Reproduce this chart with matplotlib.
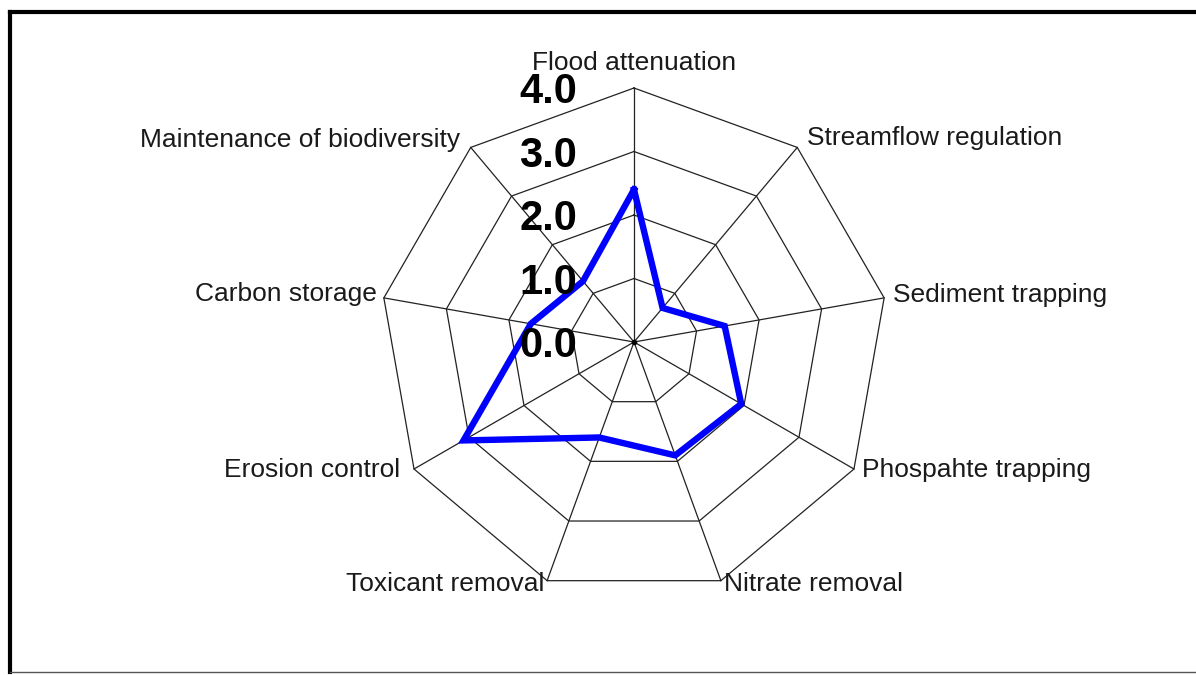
import numpy as np
import matplotlib
matplotlib.use("Agg")
import matplotlib.pyplot as plt
from matplotlib.lines import Line2D

plt.rcParams["font.family"] = ["Liberation Sans", "DejaVu Sans"]

# ---- data ----
categories = ["Flood attenuation", "Streamflow regulation", "Sediment trapping",
              "Phospahte trapping", "Nitrate removal", "Toxicant removal",
              "Erosion control", "Carbon storage", "Maintenance of biodiversity"]
values = [2.4, 0.7, 1.45, 1.95, 1.9, 1.6, 3.1, 1.65, 1.25]
ring_levels = [0.0, 1.0, 2.0, 3.0, 4.0]
ring_labels = ["0.0", "1.0", "2.0", "3.0", "4.0"]

# ---- layout (pixels, figure is 1196x675) ----
W, H = 1196, 675
CX, CY, R = 634, 342, 254
# label offsets from each outer vertex, in pixels (x right, y up) + alignment
lab_off = [(0, 18, "center"), (10, 2, "left"), (9, -4, "left"), (8, -8, "left"),
           (3, -10, "left"), (-3, -10, "right"), (-14, -8, "right"),
           (-7, -3, "right"), (-11, 0, "right")]

fig = plt.figure(figsize=(W / 100, H / 100), dpi=100)
fig.patch.set_facecolor("white")
ax = fig.add_axes([(CX - R) / W, (H - CY - R) / H, 2 * R / W, 2 * R / H], projection="polar")
ax.set_theta_zero_location("N")
ax.set_theta_direction(-1)
ax.set_ylim(0, ring_levels[-1])
ax.axis("off")

n = len(categories)
theta = np.arange(n) * 2 * np.pi / n
tclosed = np.append(theta, theta[0])

# polygon grid + spokes
for r in ring_levels[1:]:
    ax.plot(tclosed, [r] * (n + 1), color="#222222", lw=0.9, clip_on=False, zorder=1)
for t in theta:
    ax.plot([t, t], [0, ring_levels[-1]], color="#222222", lw=0.9, clip_on=False, zorder=1)
ax.plot([0], [0], "o", color="black", ms=3, zorder=2)

# data polygon
vals = np.append(values, values[0])
ax.plot(tclosed, vals, color="#0000FF", lw=4.6, solid_joinstyle="miter",
        clip_on=False, zorder=3)

# ring value labels
for r, lab in zip(ring_levels, ring_labels):
    ax.annotate(lab, xy=(0, r), xytext=(-57 * 0.72, -15 * 0.72), textcoords="offset points",
                ha="right", va="baseline", fontsize=30, fontweight="bold", color="black",
                zorder=4, annotation_clip=False)

# category labels
for t, lab, (dx, dy, ha) in zip(theta, categories, lab_off):
    ax.annotate(lab, xy=(t, ring_levels[-1]), xytext=(dx * 0.72, dy * 0.72),
                textcoords="offset points", ha=ha, va="baseline", fontsize=19,
                color="#1a1a1a", annotation_clip=False)

# outer frame: thick top and left, thin grey bottom
fig.add_artist(Line2D([9.5 / W, 1.0], [1 - 11.5 / H, 1 - 11.5 / H], transform=fig.transFigure,
                      color="black", lw=3.0))
fig.add_artist(Line2D([9.5 / W, 9.5 / W], [1 - 11.5 / H, 1 - 672 / H], transform=fig.transFigure,
                      color="black", lw=3.0))
fig.add_artist(Line2D([9.5 / W, 1.0], [1 - 672 / H, 1 - 672 / H], transform=fig.transFigure,
                      color="#555555", lw=1.0))

fig.savefig("out.png", dpi=100)
